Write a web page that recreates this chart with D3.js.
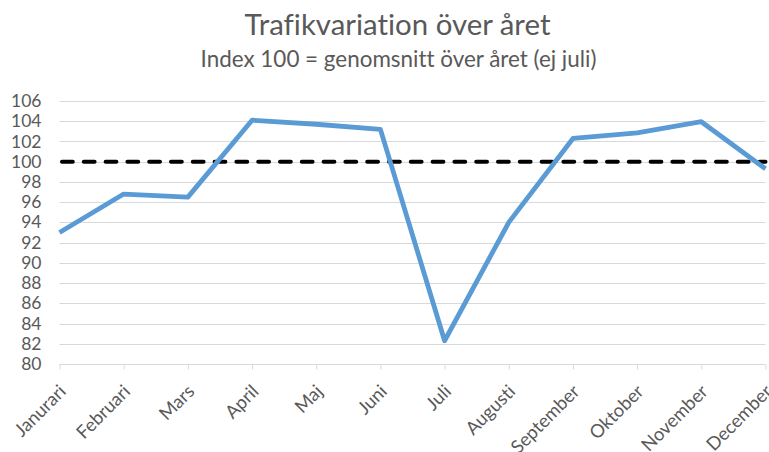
<!DOCTYPE html>
<html><head><meta charset="utf-8">
<script src="https://cdn.jsdelivr.net/npm/d3@7"></script>
<style>body{margin:0;background:#fff}svg{display:block}text{font-variant-ligatures:none;font-feature-settings:"liga" 0}</style>
</head><body>
<script>
const months = ["Janurari","Februari","Mars","April","Maj","Juni","Juli","Augusti","September","Oktober","November","December"];
const values = [93.0,96.8,96.5,104.1,103.7,103.2,82.3,94.0,102.3,102.85,103.95,99.3];
const referenceValue = 100;
const yTicks = [80,82,84,86,88,90,92,94,96,98,100,102,104,106];
const title = "Trafikvariation över året";
const subtitle = "Index 100 = genomsnitt över året (ej juli)";

const W = 769, H = 452;
const font = "Lato, 'Open Sans', sans-serif";
const svg = d3.select("body").append("svg").attr("width", W).attr("height", H);

// font size that makes a sample text a given width
function fitSize(sample, target, base) {
  const t = svg.append("text").attr("font-family", font).attr("font-size", base).text(sample);
  const w = t.node().getComputedTextLength();
  t.remove();
  return base * target / w;
}
const titleSize = fitSize(title, 306, 20);
const subSize = fitSize(subtitle, 396, 16);
const ySize = fitSize("106", 30.5, 16);
const xSize = fitSize("September", 88, 16);

const x = d3.scalePoint().domain(months).range([59.5, 765.5]);
const y = d3.scaleLinear().domain([80, 106]).range([364, 101]);

svg.append("text").attr("x", 397.5).attr("y", 35).attr("text-anchor", "middle")
  .attr("font-family", font).attr("font-size", titleSize).attr("fill", "#595959").text(title);
svg.append("text").attr("x", 398.5).attr("y", 67).attr("text-anchor", "middle")
  .attr("font-family", font).attr("font-size", subSize).attr("fill", "#595959").text(subtitle);

// gridlines
svg.append("g").selectAll("line").data(yTicks.filter(d => d !== 80)).join("line")
  .attr("x1", 59.5).attr("x2", 765.5)
  .attr("y1", d => Math.round(y(d)) + 0.5).attr("y2", d => Math.round(y(d)) + 0.5)
  .attr("stroke", "#D9D9D9").attr("stroke-width", 1);

// y axis labels
const ya = svg.append("g").attr("transform", "translate(59.5,0)")
  .call(d3.axisLeft(y).tickValues(yTicks).tickSize(0).tickPadding(18));
ya.select(".domain").remove();
ya.selectAll("text").attr("font-family", font).attr("font-size", ySize).attr("fill", "#595959");

// x axis
const xa = svg.append("g").attr("transform", `translate(0,${Math.round(y(80)) + 0.5})`)
  .call(d3.axisBottom(x).tickSize(5).tickPadding(0));
xa.select(".domain").attr("stroke", "#D9D9D9").attr("d", "M59.5,0H765.5");
xa.selectAll(".tick line").attr("stroke", "#D9D9D9");
xa.selectAll("text").attr("font-family", font).attr("font-size", xSize).attr("fill", "#595959")
  .attr("text-anchor", "end").attr("dy", "0.32em").attr("y", 0).attr("x", 0)
  .attr("transform", "translate(3,24) rotate(-45)");

// reference line
svg.append("line").attr("x1", 62).attr("x2", 765.5)
  .attr("y1", y(referenceValue)).attr("y2", y(referenceValue))
  .attr("stroke", "#000").attr("stroke-width", 4).attr("stroke-linecap", "round")
  .attr("stroke-dasharray", "10.8,11");

// data line
svg.append("path").datum(values)
  .attr("d", d3.line().x((d, i) => x(months[i])).y(d => y(d)))
  .attr("fill", "none").attr("stroke", "#5B9BD5").attr("stroke-width", 4.8)
  .attr("stroke-linejoin", "round");
</script>
</body></html>
